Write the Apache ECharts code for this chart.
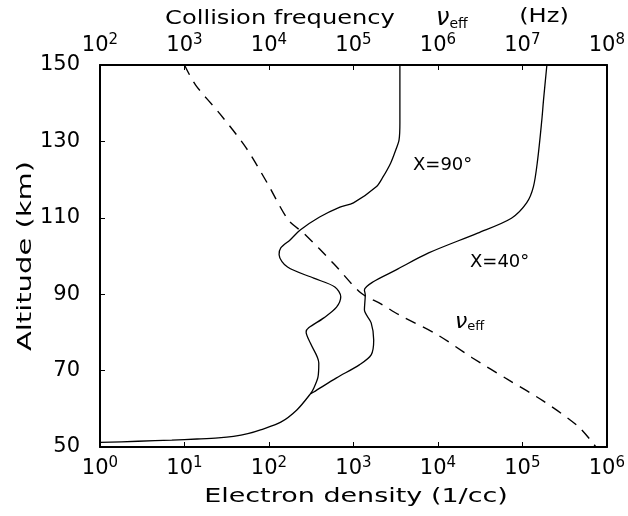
<!DOCTYPE html>
<html lang="en">
<head>
    <meta charset="UTF-8">
    <title>Electron density and collision frequency</title>
    <script type="text/javascript" src="https://cdn.jsdelivr.net/npm/echarts@6/dist/echarts.min.js"></script>
    <style>
        html, body { margin: 0; padding: 0; background: #fff; }
        #main { width: 628px; height: 516px; }
    </style>
</head>
<body>
<div id="main"></div>
<script type="text/javascript">
// altitude ticks (km)
var altTicks = [50, 70, 90, 110, 130, 150];

// chi = 90 deg profile: log10 of electron density (1/cc) and altitude (km)
var chi90Exp = [3.55, 3.55, 3.54, 3.50, 3.44, 3.35, 3.27, 3.00, 2.84, 2.60, 2.37, 2.25, 2.14, 2.12,
    2.22, 2.53, 2.78, 2.85, 2.80, 2.65, 2.47, 2.44, 2.49, 2.59, 2.58, 2.53, 2.49,
    2.33, 2.14, 1.90, 1.75, 1.58, 1.40, 1.15, 0.85, 0.45, 0.00];
var chi90Alt = [150, 134.8, 130.4, 127.7, 124.3, 120.7, 118.1, 113.9, 112.8, 110.2, 106.8, 104.2, 102.1, 100.3,
    97.1, 94.2, 91.9, 89.3, 86.6, 83.8, 81.2, 80.1, 77.2, 72.0, 68.3, 65.4, 63.9,
    59.7, 56.5, 54.5, 53.5, 52.8, 52.4, 52.1, 51.8, 51.5, 51.2];

// chi = 40 deg profile (joins the 90 deg one near 64 km)
var chi40Exp = [5.29, 5.25, 5.23, 5.18, 5.13, 5.05, 4.87, 4.47, 3.89, 3.50, 3.23, 3.13, 3.14,
    3.13, 3.21, 3.24, 3.21, 3.07, 2.80, 2.53, 2.49];
var chi40Alt = [150, 140.8, 135.6, 125.1, 118.1, 113.9, 109.9, 106.0, 100.8, 96.3, 93.2, 91.1, 89.8,
    85.9, 82.5, 78.0, 74.1, 71.5, 68.1, 64.4, 63.9];

// effective collision frequency: log10 (Hz) and altitude (km)
var nuExp = [3.00, 3.13, 3.42, 3.73, 3.98, 4.23, 4.42, 4.77, 5.09, 5.33, 5.54, 6.00, 6.41, 6.84, 7.25, 7.67, 7.87];
var nuAlt = [150, 144.8, 137.2, 128.3, 119.1, 109.4, 105.8, 97.9, 90.3, 87.4, 84.6, 79.3, 73.3, 67.5, 62.0, 55.2, 50];

var FONT = '"DejaVu Sans", sans-serif';

function pairs(exps, alts) {
    var out = [];
    for (var i = 0; i < exps.length; i++) {
        out.push([Math.pow(10, exps[i]), alts[i]]);
    }
    return out;
}

function powLabel(v) {
    var e = Math.round(Math.log10(v));
    return '{b|10}{s|' + e + '}';
}

var powRich = {
    b: { fontSize: 21, fontFamily: FONT, color: '#000', lineHeight: 26 },
    s: { fontSize: 15, fontFamily: FONT, color: '#000', verticalAlign: 'top', lineHeight: 14 }
};

var myChart = echarts.init(document.getElementById('main'));
var option = {
    animation: false,
    backgroundColor: '#fff',
    grid: { left: 100, right: 14, top: 65, bottom: 69 },
    xAxis: [
        {
            type: 'log', logBase: 10, min: 1, max: 1e6, interval: 1,
            position: 'bottom',
            axisLine: { lineStyle: { color: '#000', width: 2 } },
            axisTick: { inside: true, length: 5, lineStyle: { color: '#000', width: 1 } },
            splitLine: { show: false },
            axisLabel: { formatter: powLabel, rich: powRich, margin: 9, showMaxLabel: true }
        },
        {
            type: 'log', logBase: 10, min: 100, max: 1e8, interval: 1,
            position: 'top',
            axisLine: { lineStyle: { color: '#000', width: 2 } },
            axisTick: { inside: true, length: 5, lineStyle: { color: '#000', width: 1 } },
            splitLine: { show: false },
            axisLabel: { formatter: powLabel, rich: powRich, margin: 6, showMaxLabel: true }
        }
    ],
    yAxis: [
        {
            type: 'value', min: 50, max: 150, interval: 10,
            axisLine: { show: true, lineStyle: { color: '#000', width: 2 } },
            axisTick: { show: true, inside: true, length: 5, customValues: altTicks, lineStyle: { color: '#000' } },
            splitLine: { show: false },
            axisLabel: { customValues: altTicks, fontSize: 21, fontFamily: FONT, color: '#000', margin: 20 }
        },
        {
            type: 'value', min: 50, max: 150, interval: 10, position: 'right',
            axisLine: { show: true, lineStyle: { color: '#000', width: 2 } },
            axisTick: { show: false },
            axisLabel: { show: false },
            splitLine: { show: false }
        }
    ],
    series: [
        {
            name: 'chi90', type: 'line', xAxisIndex: 0, yAxisIndex: 0,
            data: pairs(chi90Exp, chi90Alt), smooth: 0.3, showSymbol: false,
            lineStyle: { color: '#000', width: 1.3 }
        },
        {
            name: 'chi40', type: 'line', xAxisIndex: 0, yAxisIndex: 0,
            data: pairs(chi40Exp, chi40Alt), smooth: 0.3, showSymbol: false,
            lineStyle: { color: '#000', width: 1.3 }
        },
        {
            name: 'nu_eff', type: 'line', xAxisIndex: 1, yAxisIndex: 0,
            data: pairs(nuExp, nuAlt), smooth: 0.3, showSymbol: false,
            lineStyle: { color: '#000', width: 1.4, type: [11, 8] }
        }
    ],
    graphic: [
        // top axis title
        { type: 'text', x: 280, y: 19, scaleX: 1.27,
          style: { text: 'Collision frequency', font: '19px ' + FONT, fill: '#000', align: 'center', verticalAlign: 'middle' } },
        { type: 'text', x: 436, y: 19,
          style: { text: '{n|ν}{e|eff}', fill: '#000', align: 'left', verticalAlign: 'middle',
                   rich: { n: { fontSize: 24, fontStyle: 'italic', fontFamily: FONT }, e: { fontSize: 14, fontFamily: FONT, verticalAlign: 'bottom' } } } },
        { type: 'text', x: 544, y: 17, scaleX: 1.27,
          style: { text: '(Hz)', font: '19px ' + FONT, fill: '#000', align: 'center', verticalAlign: 'middle' } },
        // bottom axis title
        { type: 'text', x: 356, y: 497, scaleX: 1.42,
          style: { text: 'Electron density (1/cc)', font: '19px ' + FONT, fill: '#000', align: 'center', verticalAlign: 'middle' } },
        // y axis title
        { type: 'text', x: 26, y: 256, rotation: Math.PI / 2, scaleX: 1.45,
          style: { text: 'Altitude (km)', font: '20px ' + FONT, fill: '#000', align: 'center', verticalAlign: 'middle' } },
        // curve labels
        { type: 'text', x: 413, y: 165,
          style: { text: 'X=90°', font: '18px ' + FONT, fill: '#000', align: 'left', verticalAlign: 'middle' } },
        { type: 'text', x: 470, y: 262,
          style: { text: 'X=40°', font: '18px ' + FONT, fill: '#000', align: 'left', verticalAlign: 'middle' } },
        { type: 'text', x: 455, y: 322,
          style: { text: '{n|ν}{e|eff}', fill: '#000', align: 'left', verticalAlign: 'middle',
                   rich: { n: { fontSize: 22, fontStyle: 'italic', fontFamily: FONT }, e: { fontSize: 13, fontFamily: FONT, verticalAlign: 'bottom' } } } }
    ]
};
myChart.setOption(option);
</script>
</body>
</html>
